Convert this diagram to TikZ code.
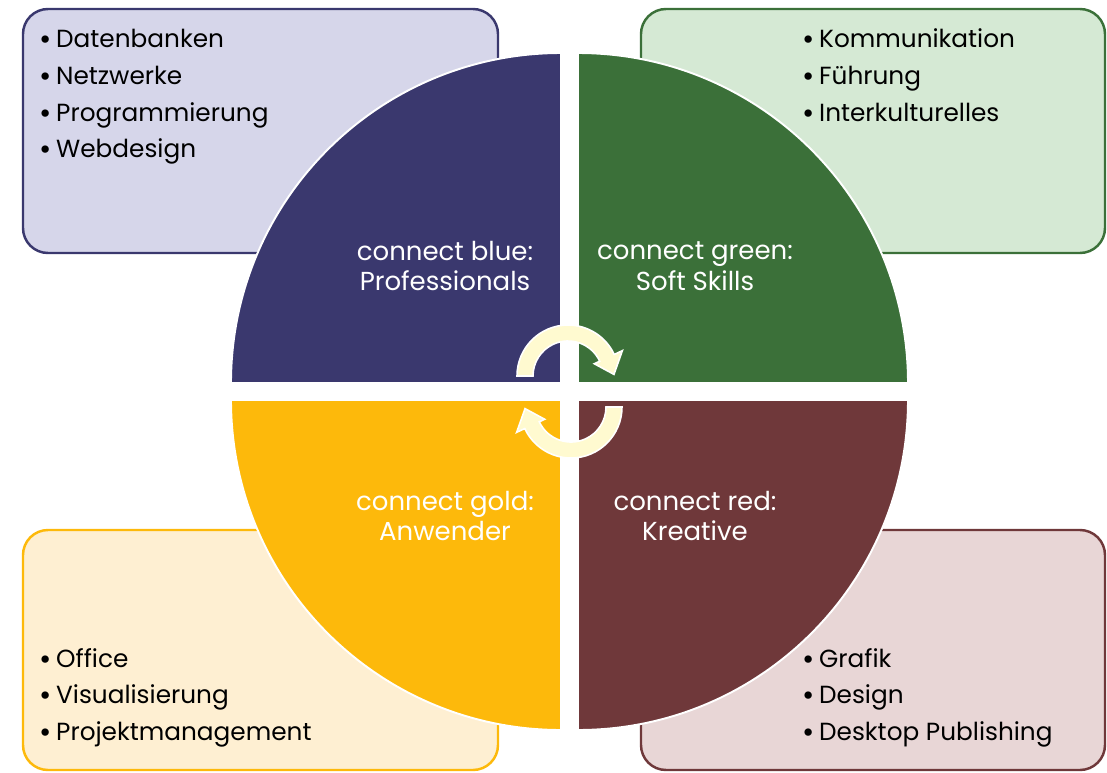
\documentclass[tikz,border=0pt]{standalone}
\usepackage{fontspec}
\setmainfont{Poppins}

\definecolor{cblue}{RGB}{58,56,110}
\definecolor{cgreen}{RGB}{59,112,57}
\definecolor{cred}{RGB}{111,56,58}
\definecolor{cgold}{RGB}{253,185,11}
\definecolor{lblue}{RGB}{214,214,234}
\definecolor{lgreen}{RGB}{213,233,212}
\definecolor{lred}{RGB}{232,214,214}
\definecolor{lgold}{RGB}{254,239,210}
\definecolor{cream}{RGB}{255,250,208}

\newcommand{\bul}{\raisebox{-0.12em}{\scalebox{1.2}{•}}\hspace{2.6pt}}

\begin{document}
\begin{tikzpicture}[x=0.02cm, y=-0.02cm,
  listbox/.style={rounded corners=0.5cm, line width=1.4pt},
  quarter/.style={draw=white, line width=1.1pt},
  listitem/.style={anchor=base west, inner sep=0pt, font=\fontsize{14.1}{17}\selectfont},
  qtitle/.style={text=white, align=center, font=\fontsize{14.8}{17.6}\selectfont},
  swirl/.style={fill=cream, draw=white, line width=0.9pt}]

\useasboundingbox (0,0) rectangle (1107,772);

% -------- boxes -----------
\draw[listbox, draw=cblue,  fill=lblue]  (23,9)    rectangle (498,253);
\draw[listbox, draw=cgreen, fill=lgreen] (641,9)   rectangle (1105,253);
\draw[listbox, draw=cgold,  fill=lgold]  (23,530)  rectangle (498,770);
\draw[listbox, draw=cred,   fill=lred]   (641,530) rectangle (1105,770);

% -------- quarters -----------
\draw[quarter, fill=cblue]  (561,383) -- (231,383) arc[start angle=180, end angle=270, radius=330] -- cycle;
\draw[quarter, fill=cgreen] (578,383) -- (578,53)  arc[start angle=270, end angle=360, radius=330] -- cycle;
\draw[quarter, fill=cred]   (578,400) -- (908,400) arc[start angle=0,   end angle=90,  radius=330] -- cycle;
\draw[quarter, fill=cgold]  (561,400) -- (561,730) arc[start angle=90,  end angle=180, radius=330] -- cycle;

\node[qtitle] (blue)  at (445,266) {connect blue:\\Professionals};
\node[qtitle] (green) at (695,266) {connect green:\\Soft Skills};
\node[qtitle] (gold)  at (445,516) {connect gold:\\Anwender};
\node[qtitle] (red)   at (695,516) {connect red:\\Kreative};

% -------- cycle arrows -----------
\coordinate (mid) at (569.5,391.5);
\draw[swirl, shift={(568,376)}] (180:51) arc[start angle=180, end angle=335, radius=51]
  -- (335:60) -- (358:46) -- (335:29) -- (335:35) arc[start angle=335, end angle=180, radius=35] -- cycle;
\draw[swirl, shift={(571,407)}] (0:51) arc[start angle=0, end angle=155, radius=51]
  -- (155:60) -- (178:46) -- (155:29) -- (155:35) arc[start angle=155, end angle=0, radius=35] -- cycle;

% -------- lists -----------
\node[listitem] (db)  at (39,47)  {\bul Datenbanken};
\node[listitem] (net) at (39,84)  {\bul Netzwerke};
\node[listitem] (prg) at (39,121) {\bul Programmierung};
\node[listitem] (web) at (39,157) {\bul Webdesign};

\node[listitem] (kom) at (802,47)  {\bul Kommunikation};
\node[listitem] (fue) at (802,84)  {\bul Führung};
\node[listitem] (ink) at (802,121) {\bul Interkulturelles};

\node[listitem] (off) at (39,667) {\bul Office};
\node[listitem] (vis) at (39,703) {\bul Visualisierung};
\node[listitem] (pm)  at (39,740) {\bul Projektmanagement};

\node[listitem] (gra) at (802,667) {\bul Grafik};
\node[listitem] (des) at (802,703) {\bul Design};
\node[listitem] (dtp) at (802,740) {\bul Desktop Publishing};
\end{tikzpicture}
\end{document}
